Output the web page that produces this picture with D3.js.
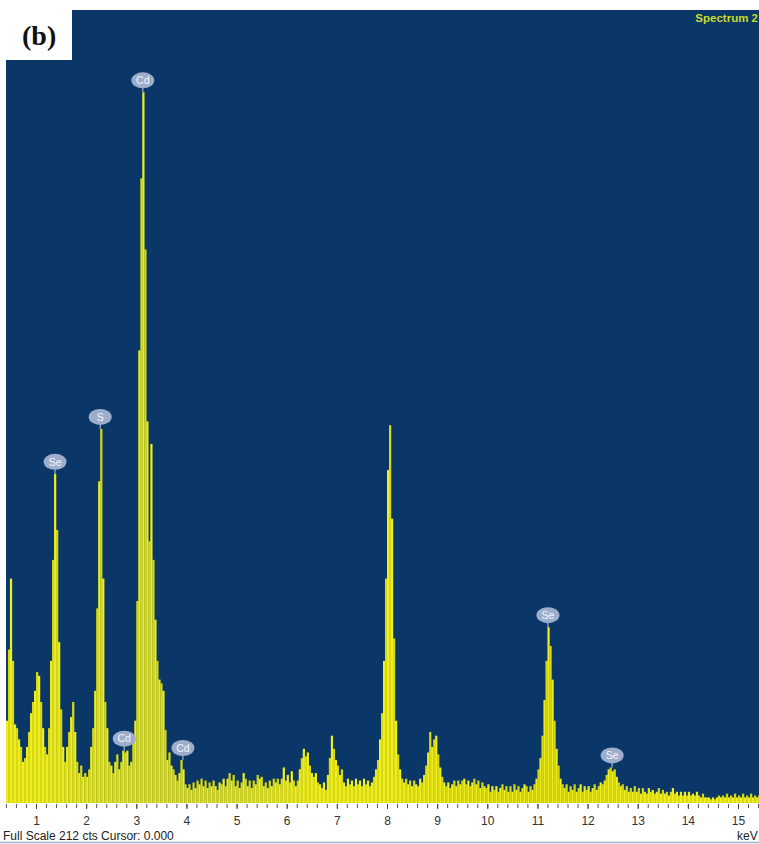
<!DOCTYPE html>
<html>
<head>
<meta charset="utf-8">
<script src="https://cdn.jsdelivr.net/npm/d3@7"></script>
<style>
  html, body { margin: 0; padding: 0; background: #ffffff; }
  svg { display: block; }
</style>
</head>
<body>
<svg id="chart" width="759" height="844"></svg>
<script>
// EDS spectrum: counts per 40 eV channel, first channel starting at 0.40 keV
const channelStartKeV = 0.40;
const channelWidthKeV = 0.04;
const counts = [
  22,41,60,38,21,20,17,15,11,12,15,19,24,27,30,35,34,27,20,15,13,20,38,65,88,73,43,25,15,11,
  15,19,23,27,19,11,8,10,7,8,7,9,15,20,30,52,86,100,60,27,20,11,10,8,11,13,9,11,14,13.5,14,10,11,17,
  22,54,121,167,190,148,102,70,96,65,49,38,33,32,30,19.5,11.5,13.5,10,9,7.5,6,8,11.5,9,5,4,
  5,3.5,5.5,4,6,5,6.5,4.5,6,4,5.5,4.5,6,4.5,3.5,5.5,5,6.5,4.5,6.5,8,6,7.5,4.5,6,4,5.5,8,6.5,4.5,
  6,4,6,5,7.5,6.5,7,4.5,5.5,4,6,4.5,6.5,5.5,6.5,5,6.5,9.5,6,7.5,5.5,8.5,6,4.5,6,9,
  12,14.5,12.5,13.5,10,8,7,8,5.5,5,4,5.5,3.5,7.5,12,18,14.5,11.5,10,7.5,9,5.5,4.5,6.5,5,6,4.5,6.5,5,6,4.5,6.5,5,6,4.5,
  5.5,7,9,11.5,17,24,38,60,89,101,76,44,22,13,9,6.5,5.5,6.5,5,6,4.5,6,5,4.5,6.5,5.5,7.5,10,13.5,19,15,17,18,13,9.5,7,
  5.5,4.5,5.5,4,5,6,4.5,6,5,6,6.5,5,6,4.5,5.5,6.5,5,6,4,5.5,4.5,4,5,3,4.5,3.5,4.5,3,4,5,3.5,4.5,3,4.5,3,5,3.5,4.5,3,4,5,4.5,3,4.5,3.5,5,
  6.5,9,12,18,27.5,38,47,42,33,22,14.5,10,6.5,5,4,5,3,4.5,3.5,5,3,4,5,3,4.5,3.5,4.5,3,4,5,3.5,4.5,5.5,
  5,6,7.5,9,9.5,8.5,9,7,5.5,4.5,5,3.5,4.5,3,4,3,4.5,3,4,2.5,
  4,3,2.5,4,3,3.5,2.5,3,4,2.5,3.5,2.5,3,2,3,4,2.5,3,2,3,2,3,2,3,2,2.5,2,3,2,1.5,
  2.5,1.5,1.5,1.5,1,1.5,1,1.5,2,1.5,2,1.5,2.5,1.5,2,1.5,2.5,1.5,2,1.5,2.5,1.5,2,1.5,2.5,1.5,2,1.5,2,1.5
];

// Energy axis labels (keV)
const tickLabels = [1,2,3,4,5,6,7,8,9,10,11,12,13,14,15];

// Identified lines
const peakElements = ["Se", "S", "Cd", "Cd", "Cd", "Se", "Se"];
const peakEnergies = [1.38, 2.28, 3.13, 2.76, 3.93, 11.21, 12.49];

const fullScaleCts = 212;
const spectrumName = "Spectrum 2";
const panelTag = "(b)";

// ---- layout ----
const W = 759, H = 844;
const plot = { left: 6, right: 759, top: 10, bottom: 803 };

const svg = d3.select("#chart");

const x = d3.scaleLinear().domain([1, 15]).range([36, 738]);
const y = d3.scaleLinear().domain([0, fullScaleCts]).range([plot.bottom, plot.top]);

svg.append("defs").append("clipPath").attr("id", "plotClip")
  .append("rect")
  .attr("x", plot.left).attr("y", plot.top)
  .attr("width", plot.right - plot.left).attr("height", plot.bottom - plot.top);

// plot background
svg.append("rect")
  .attr("x", plot.left).attr("y", plot.top)
  .attr("width", plot.right - plot.left).attr("height", plot.bottom - plot.top)
  .attr("fill", "#0a3768");

// spectrum channels
const channels = counts.map((c, i) => ({
  e0: channelStartKeV + i * channelWidthKeV,
  e1: channelStartKeV + (i + 1) * channelWidthKeV,
  c, i
}));

svg.append("g").attr("clip-path", "url(#plotClip)")
  .selectAll("rect.ch")
  .data(channels)
  .join("rect")
  .attr("class", "ch")
  .attr("x", d => x(d.e0))
  .attr("width", d => x(d.e1) - x(d.e0) + 0.2)
  .attr("y", d => y(d.c))
  .attr("height", d => y(0) - y(d.c))
  .attr("fill", d => (d.i % 2 === 0 ? "#eeee22" : "#d8d814"));

// element markers
function peakTop(e) {
  const k = Math.floor((e - channelStartKeV) / channelWidthKeV);
  return d3.max([k - 1, k, k + 1].filter(j => j >= 0 && j < counts.length), j => counts[j]);
}
const markers = peakElements.map((el, i) => ({ el, e: peakEnergies[i], top: peakTop(peakEnergies[i]) }));

const mk = svg.append("g").selectAll("g.mk").data(markers).join("g")
  .attr("class", "mk")
  .attr("transform", d => `translate(${x(d.e)},${y(d.top) - 12})`);

mk.append("line")
  .attr("x1", 0).attr("x2", 0).attr("y1", 7).attr("y2", 12)
  .attr("stroke", "#9fb0cf").attr("stroke-width", 1.2);

mk.append("ellipse")
  .attr("rx", 11.5).attr("ry", 8)
  .attr("fill", "#9dadcc");

mk.append("text")
  .attr("text-anchor", "middle")
  .attr("dy", "0.36em")
  .attr("font-family", "Liberation Sans, Arial, sans-serif")
  .attr("font-size", 10.5)
  .attr("fill", "#f4f6fb")
  .text(d => d.el);

// energy axis
const minorTicks = d3.range(2, 78).map(k => k / 5);
svg.append("g")
  .attr("transform", `translate(0,${plot.bottom})`)
  .call(d3.axisBottom(x).tickValues(minorTicks).tickSize(4).tickFormat(""))
  .call(g => g.select(".domain").remove())
  .call(g => g.selectAll(".tick line").attr("stroke", "#555").attr("transform", "translate(0,1)"));

svg.append("g")
  .attr("transform", `translate(0,${plot.bottom})`)
  .call(d3.axisBottom(x).tickValues(tickLabels).tickSize(5).tickPadding(8).tickFormat(d3.format("d")))
  .call(g => g.select(".domain").remove())
  .call(g => g.selectAll(".tick line").attr("stroke", "#444").attr("transform", "translate(0,1)"))
  .call(g => g.selectAll(".tick text")
    .attr("font-family", "Liberation Sans, Arial, sans-serif")
    .attr("font-size", 12)
    .attr("fill", "#333"));

// status line
svg.append("text")
  .attr("x", 3).attr("y", 840)
  .attr("font-family", "Liberation Sans, Arial, sans-serif")
  .attr("font-size", 12)
  .attr("fill", "#222")
  .text(`Full Scale ${fullScaleCts} cts Cursor: 0.000`);

svg.append("text")
  .attr("x", 737).attr("y", 840)
  .attr("font-family", "Liberation Sans, Arial, sans-serif")
  .attr("font-size", 12)
  .attr("fill", "#222")
  .text("keV");

svg.append("line")
  .attr("x1", 0).attr("x2", W).attr("y1", 842.5).attr("y2", 842.5)
  .attr("stroke", "#9fb3cf").attr("stroke-width", 1.5);

// spectrum name
svg.append("text")
  .attr("x", 758).attr("y", 22)
  .attr("text-anchor", "end")
  .attr("font-family", "Liberation Sans, Arial, sans-serif")
  .attr("font-size", 11.5)
  .attr("font-weight", "bold")
  .attr("fill", "#cadb2c")
  .text(spectrumName);

// panel tag
svg.append("rect")
  .attr("x", 0).attr("y", 0).attr("width", 72).attr("height", 60)
  .attr("fill", "#ffffff");
svg.append("text")
  .attr("x", 22).attr("y", 45)
  .attr("font-family", "Liberation Serif, Times New Roman, serif")
  .attr("font-size", 28)
  .attr("font-weight", "bold")
  .attr("fill", "#111")
  .text(panelTag);
</script>
</body>
</html>
